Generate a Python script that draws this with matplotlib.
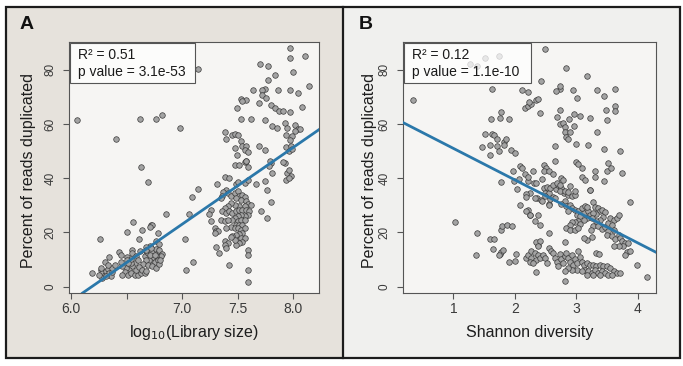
import matplotlib
matplotlib.use("Agg")
import matplotlib.pyplot as plt
from matplotlib.patches import Rectangle
import numpy as np

plt.rcParams['font.family'] = ['Liberation Sans', 'DejaVu Sans']

# ---------------- Panel A data: log10(Library size) vs % duplicated ----------------
a_scatter_x = [6.05, 6.40, 6.62, 6.63, 6.69, 6.76, 6.82, 6.98, 7.14, 6.85, 7.06, 7.09, 7.14, 7.03, 7.10,
               6.56, 6.72, 6.73, 6.71, 6.50, 6.64, 6.78, 6.26, 6.61, 7.02, 6.76, 6.79, 6.71, 6.67]
a_scatter_y = [61.5, 54.5, 62.0, 44.1, 38.6, 62.0, 63.4, 58.6, 80.2, 26.7, 26.8, 33.2, 36.2, 6.3, 9.1,
               23.9, 22.7, 22.7, 22.2, 20.0, 20.8, 19.9, 17.6, 17.6, 17.6, 17.0, 15.8, 15.1, 14.6]

a_low_x = [6.66, 6.67, 6.69, 6.70, 6.73, 6.76, 6.78, 6.79, 6.82, 6.81, 6.76, 6.73, 6.72, 6.75, 6.78, 6.70,
           6.67, 6.65, 6.69, 6.73, 6.76, 6.79, 6.80, 6.71, 6.67, 6.72, 6.75,
           6.57, 6.55, 6.52, 6.49, 6.48, 6.46, 6.51, 6.54, 6.57, 6.60, 6.63, 6.58, 6.61, 6.64, 6.66, 6.67,
           6.54, 6.46,
           6.19, 6.27, 6.28, 6.30, 6.31, 6.33, 6.34, 6.36, 6.28, 6.25, 6.37, 6.31, 6.37, 6.27,
           6.43, 6.45, 6.55, 6.55, 6.62, 6.34, 6.50, 6.54, 6.30, 6.33, 6.39, 6.45, 6.50, 6.51, 6.58, 6.60]
a_low_y = [11.2, 13.0, 12.4, 13.6, 13.0, 13.9, 12.4, 13.6, 12.2, 11.2, 11.2, 10.6, 9.3, 9.3, 9.9, 9.9,
           9.9, 8.5, 8.1, 7.7, 6.9, 8.5, 9.9, 11.8, 13.6, 14.3, 11.8,
           8.7, 7.5, 6.3, 6.9, 5.3, 4.4, 4.4, 5.0, 4.4, 4.4, 5.0, 6.3, 7.3, 6.3, 5.0, 5.7,
           8.7, 7.5,
           5.0, 6.3, 5.0, 4.4, 5.7, 6.5, 5.0, 3.8, 3.2, 4.4, 5.3, 3.8, 6.9, 6.9,
           12.9, 11.8, 13.6, 12.4, 13.1, 10.9, 10.9, 10.4, 9.2, 8.1, 8.2, 9.3, 10.0, 8.7, 11.2, 10.0]

a_mid_x = [7.47, 7.51, 7.56, 7.59, 7.57, 7.80, 7.92, 7.94, 7.96, 7.98, 7.93, 7.96,
           7.38, 7.42, 7.31, 7.48, 7.50, 7.56, 7.59, 7.66, 7.74, 7.81, 7.78,
           7.39, 7.37, 7.36, 7.35, 7.41, 7.44, 7.47, 7.50, 7.51, 7.54, 7.56, 7.48, 7.53, 7.57, 7.59,
           7.62, 7.56, 7.51, 7.47, 7.44, 7.41, 7.38, 7.36, 7.39, 7.42, 7.45, 7.48, 7.51, 7.54, 7.57,
           7.60, 7.59, 7.56, 7.53, 7.50, 7.47, 7.45, 7.50, 7.53, 7.56, 7.48, 7.51, 7.54, 7.44, 7.47,
           7.50, 7.53, 7.56, 7.54, 7.51, 7.48, 7.45, 7.50, 7.53, 7.56, 7.54, 7.51, 7.48, 7.47, 7.44,
           7.26, 7.24, 7.26, 7.35, 7.38, 7.41, 7.39, 7.29, 7.30, 7.32, 7.29, 7.38, 7.41, 7.38, 7.30,
           7.33, 7.39, 7.59, 7.59, 7.42, 7.59, 7.59, 7.71, 7.76, 7.80, 7.76]
a_mid_y = [45.0, 45.0, 45.8, 44.1, 46.2, 45.6, 45.6, 41.9, 42.9, 40.9, 39.2, 40.1,
           40.4, 40.1, 38.0, 38.0, 38.5, 38.2, 39.2, 38.0, 38.8, 41.9, 44.6,
           35.8, 34.8, 33.6, 32.7, 34.5, 33.6, 34.5, 35.2, 33.6, 33.9, 33.1, 32.7, 31.8, 31.5, 30.6,
           30.2, 29.6, 29.6, 30.2, 30.8, 29.6, 29.0, 27.8, 27.2, 27.8, 27.2, 27.8, 28.4, 28.4, 28.4,
           27.8, 26.5, 25.9, 26.5, 25.9, 25.3, 24.5, 24.1, 24.7, 24.5, 22.9, 22.9, 22.9, 22.2, 21.6,
           21.6, 21.0, 21.6, 19.8, 19.5, 19.2, 18.8, 17.3, 17.9, 17.9, 16.4, 16.1, 15.4, 17.3, 18.3,
           28.4, 26.9, 24.1, 24.5, 24.1, 24.5, 21.6, 21.6, 20.4, 20.4, 19.8, 16.7, 16.1, 15.4, 14.6,
           12.6, 14.3, 13.6, 11.8, 8.1, 6.3, 1.7, 28.1, 35.5, 31.4, 25.3]

a_high_x = [7.97, 8.10, 7.97, 7.70, 7.77, 8.00, 7.83, 7.77, 8.14, 7.64, 7.74, 7.72, 7.86, 7.97, 8.04,
            7.72, 7.75, 7.53, 7.57, 7.54, 7.69, 7.80, 7.83, 7.87, 7.91, 7.97, 8.08, 7.49, 7.53, 7.62,
            7.74, 7.81, 7.85, 7.92, 8.01, 7.94, 8.04, 8.06, 8.01, 7.93, 7.99, 7.38, 7.45, 7.39, 7.47,
            7.50, 7.53, 7.54, 7.57, 7.47, 7.56, 7.59, 7.49, 7.57, 7.69, 7.74, 7.93, 7.98, 7.97, 7.96,
            7.99, 7.91, 7.79]
a_high_y = [88.0, 85.2, 84.3, 82.2, 81.5, 79.2, 77.9, 76.1, 74.1, 72.6, 73.0, 72.4, 72.6, 72.4, 71.4,
            70.8, 69.6, 69.2, 69.0, 68.3, 67.7, 66.9, 65.9, 64.7, 64.9, 64.4, 66.3, 65.9, 62.0, 62.0,
            61.3, 59.4, 58.5, 60.4, 59.7, 58.5, 58.1, 58.1, 57.5, 56.1, 55.4, 56.9, 56.1, 54.5, 56.4,
            56.1, 53.6, 52.0, 52.0, 51.1, 50.5, 49.5, 48.7, 46.2, 52.0, 50.3, 51.5, 52.0, 54.2, 49.9,
            50.8, 45.8, 46.2]

a_fit_slope = 28.3
a_fit_intercept = -175.0
a_r2_text = "R\u00b2 = 0.51"
a_p_text = "p value = 3.1e-53"

# ---------------- Panel B data: Shannon diversity vs % duplicated ----------------
b_upper_x = [0.35, 1.03, 1.38, 1.37, 1.27, 1.39, 1.51, 1.75, 2.50, 1.46, 1.52, 1.63, 1.66, 1.63, 1.59,
             1.61, 1.76, 1.78, 1.90, 1.71, 1.71, 1.75, 1.82, 1.86, 1.82, 1.94, 2.01, 1.77, 1.98, 2.03,
             2.09, 2.09, 2.12, 2.16, 2.12, 2.17, 2.21, 2.21, 2.27, 2.34, 2.38, 2.43, 2.41, 2.21, 2.24,
             2.21, 2.25, 2.29, 2.31, 2.34, 2.36, 2.47, 2.51, 2.47, 2.55, 2.45, 2.48, 2.50, 2.43, 2.53,
             2.55, 2.58, 2.63, 2.67, 2.71, 2.77, 2.80, 2.63, 2.65, 2.66, 2.69, 2.73, 2.74, 2.73, 2.67,
             2.74, 2.79, 2.81, 2.81, 2.84, 2.87, 2.90, 2.96, 2.89, 2.97, 2.95, 3.02, 2.84, 2.99, 3.00,
             3.03, 3.09, 3.09, 3.14, 3.07, 3.17, 3.19, 3.23, 3.34, 3.34, 3.45, 3.49, 3.45, 3.46, 3.50,
             3.52, 3.50, 3.57, 3.64, 3.64, 3.64, 3.72, 3.74, 3.30, 3.22, 3.88, 1.60, 2.23]
b_upper_y = [68.9, 23.8, 19.9, 11.6, 82.2, 81.5, 84.3, 85.2, 87.8, 51.6, 56.4, 56.4, 55.8, 72.9, 52.1,
             62.0, 62.2, 64.4, 61.9, 54.4, 51.7, 50.1, 53.5, 54.4, 52.1, 50.5, 49.2, 38.5, 39.1, 36.1,
             30.2, 44.6, 43.9, 41.5, 72.4, 65.8, 71.6, 66.5, 67.3, 68.9, 69.2, 75.9, 64.2, 38.8, 34.7,
             28.3, 26.5, 42.5, 38.4, 38.4, 32.6, 44.9, 43.7, 42.5, 42.7, 39.6, 36.3, 34.5, 32.0, 36.6,
             30.4, 32.2, 33.2, 35.9, 37.5, 35.7, 34.5, 41.6, 51.7, 46.4, 62.5, 65.0, 72.9, 74.1, 72.0,
             60.1, 60.3, 58.8, 57.0, 55.3, 54.4, 57.2, 59.3, 61.8, 63.6, 72.6, 69.5, 80.6, 52.6, 45.8,
             45.2, 43.7, 40.6, 39.4, 62.8, 77.8, 52.3, 62.2, 56.9, 72.4, 70.4, 65.0, 50.7, 39.1, 42.5,
             45.5, 61.3, 43.7, 72.9, 66.7, 64.6, 50.2, 42.1, 42.8, 35.7, 31.1, 48.5, 68.0]

b_left_x = [1.60, 1.66, 1.65, 1.76, 1.78, 1.81, 1.75, 1.77, 1.80, 1.88, 1.96, 1.91, 2.00, 2.02, 2.19,
            1.97, 2.07, 2.18, 2.19, 2.18, 2.22]
b_left_y = [17.7, 17.7, 14.0, 12.1, 12.8, 13.7, 11.6, 21.0, 22.3, 22.6, 22.3, 9.1, 9.6, 12.1, 10.6,
            42.8, 39.8, 34.2, 32.9, 28.0, 40.3]

b_band_x = [2.82, 2.76, 2.84, 2.90, 2.93, 2.87, 2.98, 3.03, 3.01, 3.06, 3.12, 3.09, 3.14, 3.19, 3.22,
            3.17, 3.12, 3.03, 2.98, 3.06, 2.93, 2.90, 2.84, 2.90, 2.98, 3.03, 3.17, 3.28, 3.30, 3.35,
            3.39, 3.33, 3.28, 3.42, 3.47, 3.44, 3.39, 3.33, 3.25, 3.28, 3.36, 3.42, 3.47, 3.52, 3.55,
            3.61, 3.66, 3.69, 3.58, 3.62, 3.52, 3.50, 3.58, 3.64, 3.69, 3.71, 3.74, 3.80, 3.85, 3.77,
            3.69, 3.61, 3.82, 3.80, 3.88, 3.25, 3.17, 3.12, 3.24,
            2.76, 2.74, 2.82, 2.87, 2.93, 2.98, 2.55, 2.57, 2.63, 2.68, 2.74, 2.65, 2.56, 2.33, 2.44,
            2.49, 2.38, 2.25, 2.33, 2.41, 2.76, 2.79, 2.90, 2.98, 2.87, 3.22, 3.31]
b_band_y = [31.7, 30.5, 29.6, 30.2, 29.0, 27.8, 28.4, 27.8, 26.6, 25.9, 27.2, 29.0, 29.6, 27.8, 26.3,
            25.3, 24.7, 24.4, 23.8, 23.1, 23.8, 22.9, 21.6, 21.0, 21.0, 21.6, 29.3, 31.2, 29.3, 29.0,
            27.8, 26.8, 27.2, 28.4, 27.5, 25.6, 24.7, 24.4, 25.3, 22.3, 22.3, 21.4, 21.9, 23.5, 25.3,
            24.7, 25.3, 26.6, 22.9, 21.0, 20.4, 19.2, 18.6, 17.7, 19.2, 18.0, 16.7, 16.1, 16.1, 14.9,
            14.9, 14.9, 12.8, 11.8, 13.3, 18.2, 17.3, 18.0, 21.0,
            36.4, 35.2, 35.2, 33.9, 33.3, 33.9, 34.5, 36.4, 37.6, 38.2, 37.4, 32.7, 30.0, 32.7, 31.7,
            33.3, 26.6, 26.6, 24.1, 22.9, 40.1, 39.5, 37.0, 35.4, 34.9, 35.8, 40.3]

b_low_x = [2.22, 2.27, 2.33, 2.38, 2.27, 2.35, 2.25, 2.30, 2.41, 2.38, 2.35, 2.41, 2.46, 2.49, 2.52,
           2.56, 2.59, 2.63, 2.65, 2.68, 2.74, 2.76, 2.71, 2.79, 2.82, 2.84, 2.87, 2.90, 2.93, 2.98,
           2.95, 3.01, 3.03, 3.06, 3.09, 3.01, 2.93, 2.87, 2.82, 3.12, 3.17, 3.22, 3.28, 3.33, 3.39,
           3.44, 3.50, 3.55, 3.61, 3.66, 3.71, 3.14, 3.20, 3.25, 3.31, 3.36, 3.42, 3.47, 3.52, 3.58,
           3.09, 3.17, 3.28, 3.39, 2.82, 3.33, 3.37, 2.82, 2.56, 3.99, 4.15, 2.35, 2.38]
b_low_y = [11.8, 13.0, 12.4, 11.8, 10.6, 10.0, 9.3, 8.7, 10.6, 15.5, 16.5, 17.0, 11.8, 10.6, 8.7,
           14.3, 13.0, 12.4, 10.6, 9.1, 12.1, 10.3, 7.5, 8.7, 11.2, 12.4, 10.6, 9.1, 11.8, 10.3,
           8.1, 8.7, 13.0, 10.8, 9.3, 6.3, 6.3, 6.9, 5.7, 8.1, 8.7, 8.1, 8.1, 7.5, 8.1,
           7.5, 7.5, 6.9, 5.7, 5.0, 5.0, 6.3, 5.7, 5.0, 6.3, 5.0, 5.9, 5.0, 4.4, 4.4,
           5.7, 4.4, 4.4, 4.2, 2.0, 12.4, 12.1, 16.5, 19.8, 8.1, 3.6, 5.4, 14.9]

b_fit_slope = -11.6
b_fit_intercept = 62.6
b_r2_text = "R\u00b2 = 0.12"
b_p_text = "p value = 1.1e-10"

a_x = np.array(a_scatter_x + a_low_x + a_mid_x + a_high_x)
a_y = np.array(a_scatter_y + a_low_y + a_mid_y + a_high_y)
b_x = np.array(b_upper_x + b_left_x + b_band_x + b_low_x)
b_y = np.array(b_upper_y + b_left_y + b_band_y + b_low_y)

# ---------------- Figure ----------------
W, H = 683, 366
fig = plt.figure(figsize=(W / 100, H / 100), dpi=100)
fig.patch.set_facecolor('white')

def fx(px):
    return px / W

def fy(py):
    return 1 - py / H

# panel backgrounds
fig.patches.append(Rectangle((fx(6), fy(358)), fx(343) - fx(6), fy(7) - fy(358),
                             transform=fig.transFigure, facecolor='#e6e2dc', edgecolor='none', zorder=-2))
fig.patches.append(Rectangle((fx(343), fy(358)), fx(680) - fx(343), fy(7) - fy(358),
                             transform=fig.transFigure, facecolor='#f0f0ee', edgecolor='none', zorder=-2))
# borders
fig.patches.append(Rectangle((fx(6), fy(358)), fx(680) - fx(6), fy(7) - fy(358),
                             transform=fig.transFigure, facecolor='none', edgecolor='#1c1c1c',
                             linewidth=1.6, zorder=5))
fig.lines.append(plt.Line2D([fx(343), fx(343)], [fy(358), fy(7)], transform=fig.transFigure,
                            color='#1c1c1c', linewidth=1.6, zorder=5))

ax_a = fig.add_axes([fx(69), fy(293), fx(319) - fx(69), fy(42) - fy(293)])
ax_b = fig.add_axes([fx(403), fy(293), fx(656) - fx(403), fy(42) - fy(293)])

line_color = '#2b78aa'

def style_axes(ax):
    ax.set_facecolor('#f6f5f3')
    for s in ax.spines.values():
        s.set_color('#555555')
        s.set_linewidth(0.8)
    ax.tick_params(direction='out', length=4, width=0.8, color='#555555', labelcolor='#3a3a3a')
    ax.tick_params(axis='x', pad=2.5, labelsize=10)
    ax.tick_params(axis='y', pad=5, labelsize=8.5)
    for lab in ax.get_yticklabels():
        lab.set_rotation(90)
        lab.set_va('center')

def draw_panel(ax, x, y, slope, intercept, r2, ptxt, xlim, xticks, xticklabels):
    ax.scatter(x, y, s=16, facecolor='#a3a3a3', edgecolor='#3a3a3a', linewidths=0.5, zorder=2)
    ax.axline((0, intercept), slope=slope, color=line_color, linewidth=2.0, zorder=3)
    ax.set_xlim(*xlim)
    ax.set_ylim(-2.3, 90.2)
    ax.set_xticks(xticks)
    ax.set_xticklabels(xticklabels)
    ax.set_yticks([0, 20, 40, 60, 80])
    ax.set_yticklabels(['0', '20', '40', '60', '80'])
    style_axes(ax)
    box_w = 0.5
    ax.add_patch(Rectangle((0.005, 0.838), box_w, 0.158, transform=ax.transAxes,
                           facecolor='white', alpha=0.75, edgecolor='none', zorder=4))
    ax.add_patch(Rectangle((0.005, 0.838), box_w, 0.158, transform=ax.transAxes,
                           facecolor='none', edgecolor='#555555', linewidth=0.8, zorder=4))
    ax.text(0.036, 0.948, r2, transform=ax.transAxes, fontsize=10, color='#1a1a1a',
            va='center', ha='left', zorder=5)
    ax.text(0.036, 0.880, ptxt, transform=ax.transAxes, fontsize=10, color='#1a1a1a',
            va='center', ha='left', zorder=5)

draw_panel(ax_a, a_x, a_y, a_fit_slope, a_fit_intercept, a_r2_text, a_p_text,
           (5.98, 8.23), [6.0, 6.5, 7.0, 7.5, 8.0], ['6.0', '', '7.0', '7.5', '8.0'])
draw_panel(ax_b, b_x, b_y, b_fit_slope, b_fit_intercept, b_r2_text, b_p_text,
           (0.18, 4.30), [1, 2, 3, 4], ['1', '2', '3', '4'])

# axis labels
fig.text(fx(194), fy(332), r'log$_{10}$(Library size)', ha='center', va='center',
         fontsize=11.5, color='#1e1e1e')
fig.text(fx(529.5), fy(332), 'Shannon diversity', ha='center', va='center',
         fontsize=11.5, color='#1e1e1e')
fig.text(fx(29), fy(171), 'Percent of reads duplicated', rotation=90, ha='center', va='center',
         fontsize=11.5, color='#1e1e1e')
fig.text(fx(369), fy(171), 'Percent of reads duplicated', rotation=90, ha='center', va='center',
         fontsize=11.5, color='#1e1e1e')

# panel letters
fig.text(fx(20), fy(24.5), 'A', ha='left', va='center', fontsize=14, fontweight='bold', color='#111111')
fig.text(fx(359), fy(24.5), 'B', ha='left', va='center', fontsize=14, fontweight='bold', color='#111111')

fig.savefig('out.png', dpi=100, facecolor=fig.get_facecolor())
